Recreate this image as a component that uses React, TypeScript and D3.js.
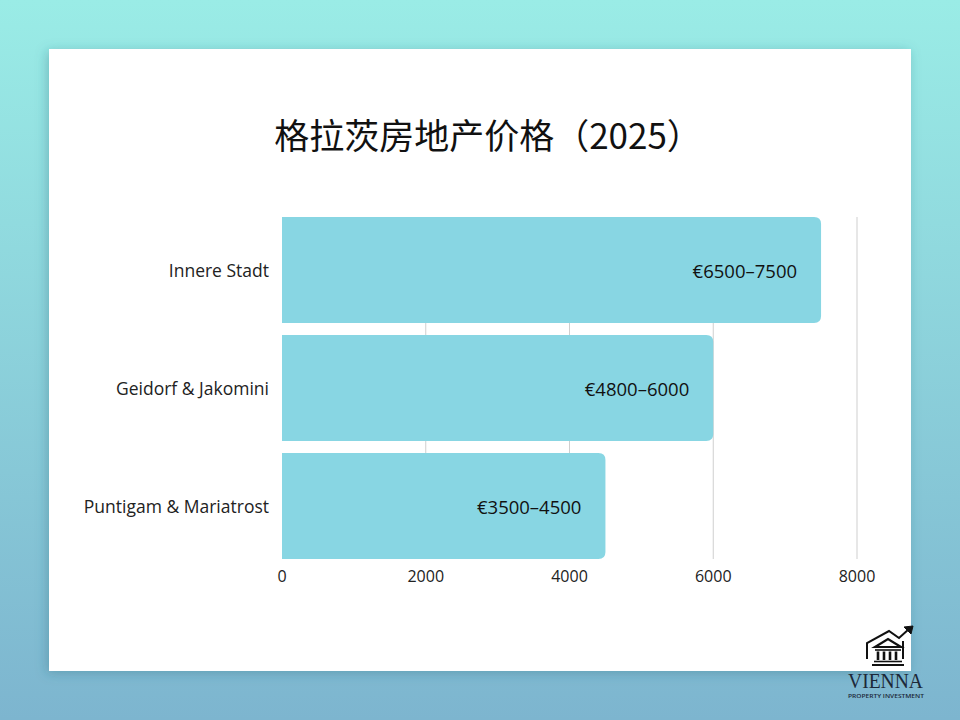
import { useRef, useEffect } from "react";
import * as d3 from "d3";

const districts = ["Innere Stadt", "Geidorf & Jakomini", "Puntigam & Mariatrost"];
const priceLow = [6500, 4800, 3500];
const priceHigh = [7500, 6000, 4500];
const xTicks = [0, 2000, 4000, 6000, 8000];
const title = "格拉茨房地产价格（2025）";

export default function App() {
  const svgRef = useRef<SVGSVGElement>(null);

  useEffect(() => {
    if (!svgRef.current) return;
    const width = 960;
    const height = 720;
    const svg = d3.select(svgRef.current);
    svg.selectAll("*").remove();
    svg.attr("width", width).attr("height", height);

    const defs = svg.append("defs");
    const grad = defs.append("linearGradient").attr("id", "bg").attr("x1", 0).attr("y1", 0).attr("x2", 0).attr("y2", 1);
    grad.append("stop").attr("offset", "0%").attr("stop-color", "#9aece6");
    grad.append("stop").attr("offset", "100%").attr("stop-color", "#7db5cf");
    const shadow = defs.append("filter").attr("id", "shadow").attr("x", "-10%").attr("y", "-10%").attr("width", "120%").attr("height", "120%");
    shadow.append("feDropShadow").attr("dx", -2).attr("dy", 2).attr("stdDeviation", 6).attr("flood-color", "#2a6a78").attr("flood-opacity", 0.35);

    svg.append("rect").attr("width", width).attr("height", height).attr("fill", "url(#bg)");

    // card
    svg.append("rect")
      .attr("x", 49).attr("y", 49).attr("width", 862).attr("height", 622)
      .attr("fill", "#ffffff").attr("filter", "url(#shadow)");

    svg.append("text")
      .attr("x", 488).attr("y", 149)
      .attr("text-anchor", "middle")
      .attr("font-family", "'Noto Sans CJK SC', 'Noto Sans', sans-serif")
      .attr("font-size", "35px")
      .attr("fill", "#111")
      .text(title);

    const x = d3.scaleLinear().domain([0, 8000]).range([282, 857]);
    const y = d3.scaleBand<string>()
      .domain(districts)
      .range([217, 559])
      .paddingInner(12 / 118)
      .paddingOuter(0);

    // gridlines
    svg.selectAll(".grid")
      .data(xTicks.slice(1))
      .join("line")
      .attr("class", "grid")
      .attr("x1", (d) => x(d)).attr("x2", (d) => x(d))
      .attr("y1", 217).attr("y2", 559)
      .attr("stroke", "#cfcfcf").attr("stroke-width", 1);

    const data = districts.map((name, i) => ({ name, low: priceLow[i], high: priceHigh[i] }));
    const r = 7;
    svg.selectAll(".bar")
      .data(data)
      .join("path")
      .attr("class", "bar")
      .attr("fill", "#88d6e3")
      .attr("d", (d) => {
        const x0 = x(0);
        const x1 = x(d.high);
        const y0 = y(d.name) || 0;
        const h = y.bandwidth();
        return `M${x0},${y0} H${x1 - r} Q${x1},${y0} ${x1},${y0 + r} V${y0 + h - r} Q${x1},${y0 + h} ${x1 - r},${y0 + h} H${x0} Z`;
      });

    svg.selectAll(".val")
      .data(data)
      .join("text")
      .attr("class", "val")
      .attr("x", (d) => x(d.high) - 24)
      .attr("y", (d) => (y(d.name) || 0) + y.bandwidth() / 2)
      .attr("text-anchor", "end")
      .attr("dominant-baseline", "central")
      .attr("font-family", "'Open Sans', 'Noto Sans', sans-serif")
      .attr("font-size", "18.5px")
      .attr("font-weight", 500)
      .attr("fill", "#111")
      .text((d) => `€${d.low}–${d.high}`);

    svg.selectAll(".cat")
      .data(districts)
      .join("text")
      .attr("class", "cat")
      .attr("x", 269)
      .attr("y", (d) => (y(d) || 0) + y.bandwidth() / 2)
      .attr("text-anchor", "end")
      .attr("dominant-baseline", "central")
      .attr("font-family", "'Open Sans', 'Noto Sans', sans-serif")
      .attr("font-size", "17.5px")
      .attr("fill", "#222")
      .text((d) => d);

    svg.selectAll(".tick")
      .data(xTicks)
      .join("text")
      .attr("class", "tick")
      .attr("x", (d) => x(d))
      .attr("y", 576)
      .attr("text-anchor", "middle")
      .attr("dominant-baseline", "central")
      .attr("font-family", "'Open Sans', 'Noto Sans', sans-serif")
      .attr("font-size", "16px")
      .attr("fill", "#222")
      .text((d) => d);

    // logo
    const logo = svg.append("g").attr("fill", "none").attr("stroke", "#111").attr("stroke-width", 2).attr("stroke-linejoin", "miter");
    // outer house outline + rising arrow
    logo.append("path").attr("d", "M867,659 V643 L889,631 L899,638 L909,629");
    logo.append("path").attr("d", "M903,641 V659");
    logo.append("path").attr("d", "M904,627 L913,626 L911,634 Z").attr("fill", "#111").attr("stroke-width", 1);
    // pediment
    logo.append("path").attr("d", "M875,647 L888,639 L901,647 Z").attr("stroke-width", 2.2);
    logo.append("path").attr("d", "M875,650 H901").attr("stroke-width", 1.6);
    [878, 884, 890, 896].forEach((cx) => {
      logo.append("line").attr("x1", cx).attr("x2", cx).attr("y1", 651.5).attr("y2", 660).attr("stroke-width", 2.6);
    });
    logo.append("path").attr("d", "M874,661.5 H902").attr("stroke-width", 1.6);
    logo.append("path").attr("d", "M872,665 H904").attr("stroke-width", 2);

    svg.append("text")
      .attr("x", 848).attr("y", 688)
      .attr("textLength", 75)
      .attr("lengthAdjust", "spacingAndGlyphs")
      .attr("font-family", "'Liberation Serif', 'DejaVu Serif', serif")
      .attr("font-size", "22px")
      .attr("fill", "#1c2838")
      .text("VIENNA");
    svg.append("text")
      .attr("x", 848).attr("y", 698)
      .attr("textLength", 76)
      .attr("lengthAdjust", "spacingAndGlyphs")
      .attr("font-family", "'Open Sans', sans-serif")
      .attr("font-size", "6px")
      .attr("font-weight", 600)
      .attr("fill", "#1c2838")
      .text("PROPERTY INVESTMENT");
  }, []);

  return (
    <div style={{ position: "absolute", left: 0, top: 0, width: 960, height: 720 }}>
      <svg ref={svgRef} style={{ display: "block" }} />
    </div>
  );
}
